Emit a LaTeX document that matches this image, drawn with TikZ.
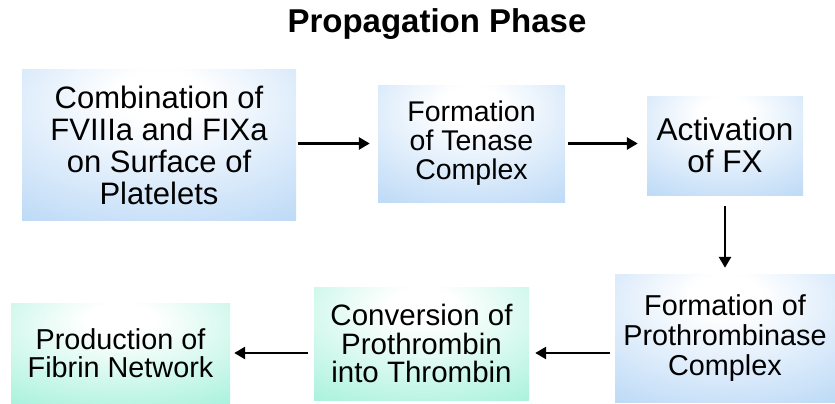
\documentclass[tikz,border=0pt]{standalone}
\usepackage{fontspec}
\setmainfont{Liberation Sans}
\usepackage{tikz}
\usetikzlibrary{arrows.meta, calc}
\usepackage{xcolor}
\definecolor{plate-blue}{HTML}{B8D7F6}
\definecolor{fibrin-green}{HTML}{A4F1DA}

% soft glow near the top of each box
\pgfdeclareradialshading{bluehaze}{\pgfpoint{0bp}{18bp}}{%
  color(0bp)=(white); color(8bp)=(white); color(46bp)=(plate-blue); color(100bp)=(plate-blue)}
\pgfdeclareradialshading{greenhaze}{\pgfpoint{0bp}{18bp}}{%
  color(0bp)=(white); color(8bp)=(white); color(46bp)=(fibrin-green); color(100bp)=(fibrin-green)}

\tikzset{
  stagebox/.style={rectangle, inner sep=0pt, align=center, text=black},
  bluestage/.style={stagebox, shading=bluehaze},
  greenstage/.style={stagebox, shading=greenhaze},
  flowarrow/.style={line width=2.7pt, -{Triangle[length=11pt,width=12pt]}}
}

\begin{document}
\begin{tikzpicture}[x=1pt, y=-1pt]
    \useasboundingbox (0,0) rectangle (835,404);

    \node (title) at (437,24) {\fontsize{33}{35}\selectfont\bfseries Propagation Phase};

    % top row
    \node[bluestage, minimum width=274pt, minimum height=150pt,
          font=\fontsize{31}{32}\selectfont] (comb) at (159,145)
      {Combination of\\FVIIIa and FIXa\\on Surface of\\Platelets};
    \node[bluestage, minimum width=187pt, minimum height=117pt,
          font=\fontsize{28.5}{29}\selectfont] (tenase) at (471.5,143.5)
      {Formation\\of Tenase\\Complex};
    \node[bluestage, minimum width=156pt, minimum height=99pt,
          font=\fontsize{31.5}{32}\selectfont] (actfx) at (725,145.5)
      {Activation\\of FX};

    % bottom row
    \node[bluestage, minimum width=220pt, minimum height=128pt,
          font=\fontsize{28.8}{30}\selectfont] (prothr) at (725,338)
      {Formation of\\Prothrombinase\\Complex};
    \node[greenstage, minimum width=215pt, minimum height=113pt,
          font=\fontsize{29.5}{28.5}\selectfont] (conv) at (421.5,343.5)
      {Conversion of\\Prothrombin\\into Thrombin};
    \node[greenstage, minimum width=219pt, minimum height=100pt,
          font=\fontsize{28.8}{28}\selectfont] (fibrin) at (120.5,353)
      {Production of\\Fibrin Network};

    \draw[flowarrow, shorten <=2pt, shorten >=8pt] (comb.east |- tenase.west) -- (tenase.west);
    \draw[flowarrow, shorten <=3pt, shorten >=9pt] (tenase.east) -- (tenase.east -| actfx.west);
    \draw[flowarrow, shorten <=11pt, shorten >=6pt] (actfx.south) -- (actfx.south |- prothr.north);
    \draw[flowarrow, shorten <=5pt, shorten >=6pt] (prothr.west |- fibrin.east) -- (conv.east |- fibrin.east);
    \draw[flowarrow, shorten <=6pt, shorten >=4pt] (conv.west |- fibrin.east) -- (fibrin.east);
\end{tikzpicture}
\end{document}
